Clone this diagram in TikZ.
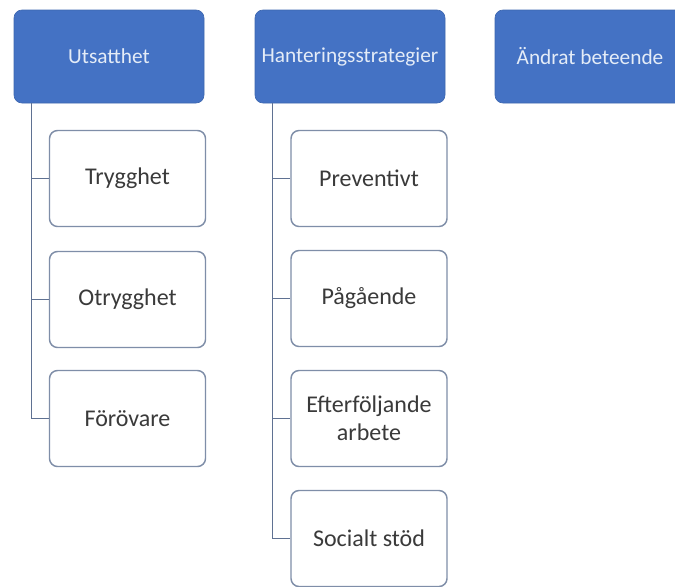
\documentclass[tikz,border=0pt]{standalone}
\usepackage{fontspec}
\setmainfont{Carlito}
\usetikzlibrary{calc}
\definecolor{hdrblue}{HTML}{4472C4}
\definecolor{hdrtext}{HTML}{E4ECF7}
\definecolor{childborder}{HTML}{7F8EA8}
\definecolor{linkcol}{HTML}{5F7192}
\definecolor{childtext}{HTML}{3A3A3A}
\tikzset{
  header/.style={fill=hdrblue, draw=hdrblue!90!black, line width=0.5pt, rounded corners=6pt,
    minimum width=142.5pt, minimum height=69.75pt, inner sep=0pt,
    text=hdrtext, font=\fontsize{16pt}{19pt}\selectfont, align=center},
  child/.style={fill=white, draw=childborder, line width=1.1pt, rounded corners=6pt,
    minimum width=117pt, minimum height=72pt, inner sep=0pt,
    text=childtext, font=\fontsize{18pt}{21pt}\selectfont, align=center},
  link/.style={draw=linkcol, line width=1.2pt}
}
\begin{document}
\begin{tikzpicture}[x=0.75pt,y=-0.75pt]
\useasboundingbox (0,0) rectangle (675,586);
\clip (0,0) rectangle (675,586);
\fill[white] (0,0) rectangle (675,586);
% headers
\node[header] (u) at (109,56.5) {Utsatthet};
\node[header] (h) at (350,56.5) {Hanteringsstrategier};
\node[header] (a) at (590,56.5) {Ändrat beteende};
% trunk coordinates
\coordinate (ut) at ($(u.south west)+(18,0)$);
\coordinate (ht) at ($(h.south west)+(18,0)$);
% children left
\node[child] (u1) at (127.5,178.5) {Trygghet};
\node[child] (u2) at (127.5,299.5) {Otrygghet};
\node[child] (u3) at (127.5,418.5) {Förövare};
% children right
\node[child] (h1) at (369,178.5) {Preventivt};
\node[child] (h2) at (369,298.5) {Pågående};
\node[child] (h3) at (369,418.5) {Efterföljande\\arbete};
\node[child] (h4) at (369,538.5) {Socialt stöd};
% connectors
\draw[link] (ut) |- (u3.west);
\draw[link] (ut |- u1.west) -- (u1.west);
\draw[link] (ut |- u2.west) -- (u2.west);
\draw[link] (ht) |- (h4.west);
\draw[link] (ht |- h1.west) -- (h1.west);
\draw[link] (ht |- h2.west) -- (h2.west);
\draw[link] (ht |- h3.west) -- (h3.west);
\end{tikzpicture}
\end{document}
